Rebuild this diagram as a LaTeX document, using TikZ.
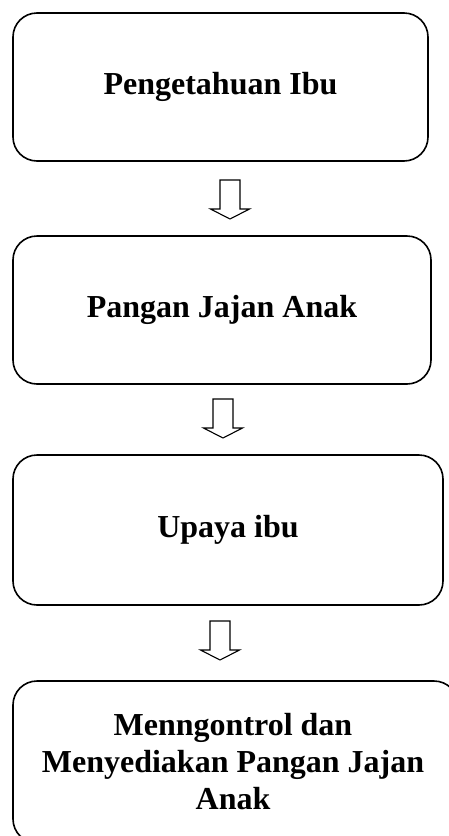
\documentclass[tikz,border=0pt]{standalone}
\usepackage{fontspec}
\setmainfont{Liberation Serif}
\begin{document}
\begin{tikzpicture}[x=1pt,y=-1pt,
  box/.style={draw, line width=1.6pt, rounded corners=24pt, inner sep=0pt},
  lbl/.style={font=\fontsize{32}{37}\selectfont\bfseries, align=center, inner sep=0pt},
  downarrow/.pic={\draw[line width=1.1pt, line join=miter]
     (-10,0) -- (10,0) -- (10,29) -- (19.5,29) -- (0,39) -- (-19.5,29) -- (-10,29) -- cycle;}
]
\useasboundingbox (0,0) rectangle (449,836);
\clip (0,0) rectangle (449,836);
\node[box, lbl, minimum width=415pt, minimum height=148pt] (b1) at (220.5,87) {Pengetahuan Ibu};
\node[box, lbl, minimum width=418pt, minimum height=148pt] (b2) at (222,310) {Pangan Jajan Anak};
\node[box, lbl, minimum width=430pt, minimum height=150pt] (b3) at (228,530) {Upaya ibu};
\node[box, minimum width=445pt, minimum height=162pt] (b4) at (235.5,762) {};
\node[lbl] (t4) at (233,762) {Menngontrol dan\\Menyediakan Pangan Jajan\\Anak};
\coordinate (a1) at (230,180);
\coordinate (a2) at (223,399);
\coordinate (a3) at (220,621);
\pic at (a1) {downarrow};
\pic at (a2) {downarrow};
\pic at (a3) {downarrow};
\end{tikzpicture}
\end{document}
